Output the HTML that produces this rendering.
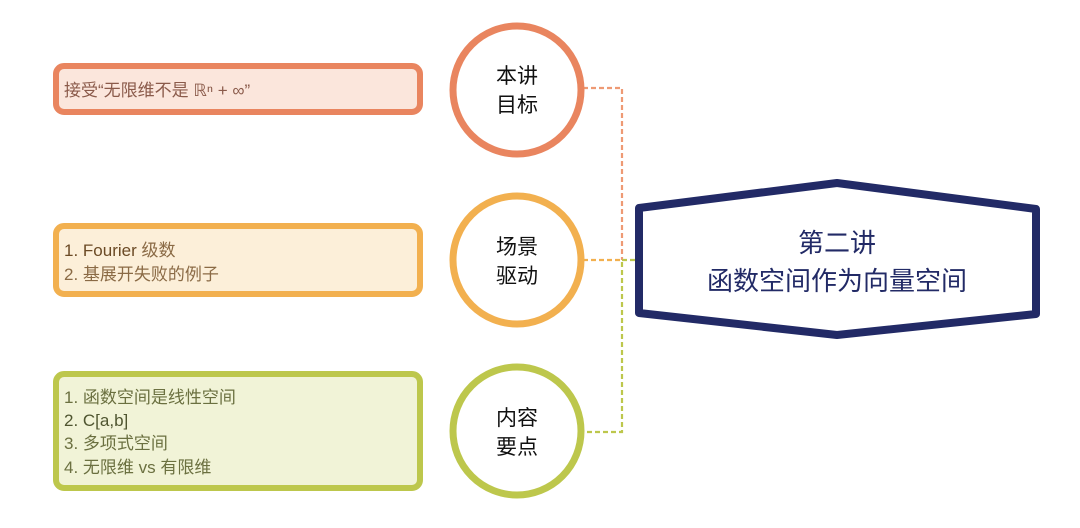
<!DOCTYPE html>
<html><head><meta charset="utf-8"><style>
html,body{margin:0;padding:0;background:#fff;}
svg{display:block;}
text{font-family:"Liberation Sans","Noto Sans CJK SC",sans-serif;}
</style></head><body>
<svg width="1080" height="528" viewBox="0 0 1080 528" xmlns="http://www.w3.org/2000/svg">
<g fill="none" stroke-width="2.2" stroke-dasharray="5,3">
<path d="M583 88 H622 V260" stroke="#ee9a74"/>
<path d="M583 260 H622" stroke="#f2b04f"/>
<path d="M622 260 H636" stroke="#bdc74c"/>
<path d="M622 262 V432 H583" stroke="#bdc74c"/>
</g>
<rect x="56" y="66" width="364" height="46" rx="8" fill="#fbe6dc" stroke="#e9855f" stroke-width="6"/>
<rect x="56" y="226" width="364" height="68" rx="8" fill="#fcefd9" stroke="#f2b04f" stroke-width="6"/>
<rect x="56" y="374" width="364" height="114" rx="8" fill="#f1f3d7" stroke="#bdc74c" stroke-width="6"/>
<g font-size="17">
<text x="64" y="96" fill="#8a5a4a">接受“无限维不是 ℝⁿ + ∞”</text>
<text x="64" y="256" fill="#6b4a25">1. Fourier <tspan fill="#8a6a45">级数</tspan></text>
<text x="64" y="280" fill="#8a6a45">2. 基展开失败的例子</text>
<text x="64" y="403" fill="#6b7040">1. 函数空间是线性空间</text>
<text x="64" y="426" fill="#4f5530">2. C[a,b]</text>
<text x="64" y="449" fill="#6b7040">3. 多项式空间</text>
<text x="64" y="473" fill="#6b7040">4. 无限维 vs 有限维</text>
</g>
<circle cx="517" cy="90" r="64" fill="#fff" stroke="#e9855f" stroke-width="7"/>
<circle cx="517" cy="260" r="64" fill="#fff" stroke="#f2b04f" stroke-width="7"/>
<circle cx="517" cy="431" r="64" fill="#fff" stroke="#bdc74c" stroke-width="7"/>
<g font-size="21" fill="#111" text-anchor="middle">
<text x="517" y="83">本讲</text><text x="517" y="112">目标</text>
<text x="517" y="254">场景</text><text x="517" y="283">驱动</text>
<text x="517" y="425">内容</text><text x="517" y="454">要点</text>
</g>
<path d="M639 208 L837 183 L1036 209 L1036 314 L837 335 L639 313 Z" fill="#fff" stroke="#222a66" stroke-width="8" stroke-linejoin="round"/>
<g font-size="26" fill="#222a66" text-anchor="middle">
<text x="837" y="252">第二讲</text>
<text x="837" y="290">函数空间作为向量空间</text>
</g>
</svg>
</body></html>
